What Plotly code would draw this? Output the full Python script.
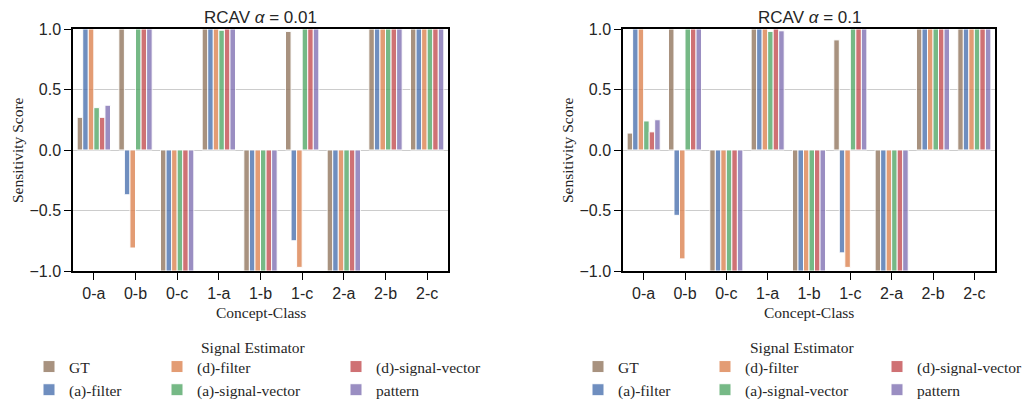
import plotly.graph_objects as go

categories = ["0-a", "0-b", "0-c", "1-a", "1-b", "1-c", "2-a", "2-b", "2-c"]
estimators = ["GT", "(a)-filter", "(d)-filter", "(a)-signal-vector", "(d)-signal-vector", "pattern"]
colors = ["#937860", "#4C72B0", "#DD8452", "#55A868", "#C44E52", "#8172B3"]

# RCAV alpha = 0.01
gt_001 = [0.27, 1.0, -1.0, 1.0, -1.0, 0.98, -1.0, 1.0, 1.0]
afilter_001 = [1.0, -0.37, -1.0, 1.0, -1.0, -0.75, -1.0, 1.0, 1.0]
dfilter_001 = [1.0, -0.81, -1.0, 1.0, -1.0, -0.97, -1.0, 1.0, 1.0]
asv_001 = [0.35, 1.0, -1.0, 0.99, -1.0, 1.0, -1.0, 1.0, 1.0]
dsv_001 = [0.27, 1.0, -1.0, 1.0, -1.0, 1.0, -1.0, 1.0, 1.0]
pattern_001 = [0.37, 1.0, -1.0, 1.0, -1.0, 1.0, -1.0, 1.0, 1.0]

# RCAV alpha = 0.1
gt_01 = [0.14, 1.0, -1.0, 1.0, -1.0, 0.91, -1.0, 1.0, 1.0]
afilter_01 = [1.0, -0.54, -1.0, 1.0, -1.0, -0.85, -1.0, 1.0, 1.0]
dfilter_01 = [1.0, -0.90, -1.0, 1.0, -1.0, -0.97, -1.0, 1.0, 1.0]
asv_01 = [0.24, 1.0, -1.0, 0.98, -1.0, 1.0, -1.0, 1.0, 1.0]
dsv_01 = [0.15, 1.0, -1.0, 1.0, -1.0, 1.0, -1.0, 1.0, 1.0]
pattern_01 = [0.25, 1.0, -1.0, 0.985, -1.0, 1.0, -1.0, 1.0, 1.0]

panels = [
    ("RCAV <i>α</i> = 0.01", [gt_001, afilter_001, dfilter_001, asv_001, dsv_001, pattern_001]),
    ("RCAV <i>α</i> = 0.1", [gt_01, afilter_01, dfilter_01, asv_01, dsv_01, pattern_01]),
]

# The page body has an 8px margin, so the figure starts 8px in from the window corner.
# The figure is made a little larger than the window so the legends fit inside it.
OFF = 8
W, H = 1070, 440
def px(x):
    return (x - OFF) / W
def py(y):
    return 1 - (y - OFF) / H

x_domains = [(73, 448), (623, 995)]
y_top, y_bot = 29, 271
# legend column text x positions (window px) for each panel
legend_cols = [(69, 197, 376), (618, 745, 917)]
col_of = [0, 0, 1, 1, 2, 2]

SERIF = "Liberation Serif, Times New Roman, serif"
SANS = "Liberation Sans, Arial, sans-serif"
INK = "#262626"

fig = go.Figure()
for p, (title, series) in enumerate(panels):
    xa = "x" if p == 0 else "x2"
    ya = "y" if p == 0 else "y2"
    for i, (name, vals) in enumerate(zip(estimators, series)):
        leg_idx = p * 3 + col_of[i] + 1
        fig.add_trace(go.Bar(
            x=categories, y=vals, name=name,
            marker=dict(color=colors[i], line=dict(color="white", width=1)),
            opacity=0.8,
            xaxis=xa, yaxis=ya,
            legend="legend" if leg_idx == 1 else f"legend{leg_idx}",
            showlegend=True,
        ))

axis_common = dict(
    showline=True, linecolor="black", linewidth=1.5, mirror=True,
    ticks="outside", ticklen=7, tickwidth=1.3, tickcolor="black",
    tickfont=dict(family=SANS, size=16, color=INK),
    zeroline=False, automargin=False,
)
layout = dict(
    template="none",
    width=W, height=H,
    margin=dict(l=0, r=0, t=0, b=0, pad=0),
    paper_bgcolor="white", plot_bgcolor="white",
    barmode="group", bargap=0.2, bargroupgap=0,
    showlegend=True,
)
annotations = []
for p, (title, series) in enumerate(panels):
    sfx = "" if p == 0 else "2"
    x0, x1 = x_domains[p]
    layout["xaxis" + sfx] = dict(domain=[px(x0), px(x1)], anchor="y" + sfx,
                                 showgrid=False, **axis_common)
    layout["yaxis" + sfx] = dict(domain=[py(y_bot), py(y_top)], anchor="x" + sfx,
                                 range=[-1, 1], tickvals=[-1, -0.5, 0, 0.5, 1],
                                 ticktext=["−1.0", "−0.5", "0.0", "0.5", "1.0"],
                                 showgrid=True, gridcolor="#cccccc", gridwidth=1,
                                 **axis_common)
    cx = (x0 + x1) / 2
    common = dict(xref="paper", yref="paper", showarrow=False,
                  xanchor="center", yanchor="middle")
    annotations.append(dict(text=title, x=px(cx), y=py(17),
                            font=dict(family=SANS, size=17, color=INK), **common))
    annotations.append(dict(text="Concept-Class", x=px(cx), y=py(312),
                            font=dict(family=SERIF, size=15.5, color=INK), **common))
    annotations.append(dict(text="Sensitivity Score", x=px(x0 - 56), y=py((y_top + y_bot) / 2),
                            textangle=-90,
                            font=dict(family=SERIF, size=15.5, color=INK), **common))
    annotations.append(dict(text="Signal Estimator", x=px(cx - 7), y=py(347),
                            font=dict(family=SERIF, size=15.5, color=INK), **common))
    for c in range(3):
        leg_idx = p * 3 + c + 1
        key = "legend" if leg_idx == 1 else f"legend{leg_idx}"
        layout[key] = dict(
            x=px(legend_cols[p][c] - 40), y=py(350), xanchor="left", yanchor="top",
            orientation="v", bgcolor="rgba(0,0,0,0)", borderwidth=0,
            font=dict(family=SERIF, size=15.5, color=INK),
            tracegroupgap=0, itemclick=False, itemdoubleclick=False,
        )
layout["annotations"] = annotations
fig.update_layout(**layout)
fig.write_html("out.html")
